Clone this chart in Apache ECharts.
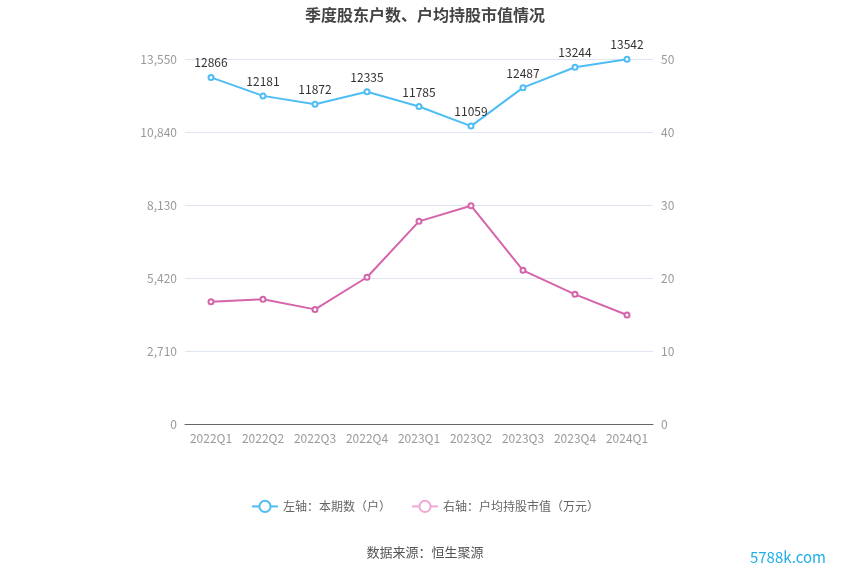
<!DOCTYPE html>
<html><head><meta charset="utf-8">
<script src="https://cdn.jsdelivr.net/npm/echarts@6/dist/echarts.min.js"></script>
<style>html,body{margin:0;padding:0;background:#fff}#c{width:850px;height:575px}</style>
</head><body><div id="c"></div>
<script>
var categories = ['2022Q1','2022Q2','2022Q3','2022Q4','2023Q1','2023Q2','2023Q3','2023Q4','2024Q1'];
var holders = [12866,12181,11872,12335,11785,11059,12487,13244,13542];
var avgValue = [16.75,17.08,15.70,20.10,27.76,29.90,21.05,17.76,14.93];
var leftTicks = [0,2710,5420,8130,10840,13550];
var rightTicks = [0,10,20,30,40,50];

var chart = echarts.init(document.getElementById('c'));
var font = 'Microsoft YaHei, "Noto Sans CJK SC", sans-serif';
chart.setOption({
  animation:false,
  textStyle:{fontFamily:font},
  title:{text:'季度股东户数、户均持股市值情况',left:'center',top:2,textStyle:{fontSize:16,fontWeight:'bold',color:'#444',fontFamily:font}},
  legend:{bottom:57,left:'center',itemWidth:26,itemHeight:14,itemGap:20,textStyle:{color:'#666',fontSize:12},
    data:[{name:'左轴：本期数（户）',itemStyle:{color:'#4fbdf5',borderWidth:2}},
          {name:'右轴：户均持股市值（万元）',itemStyle:{color:'#eeaad6',borderWidth:2},lineStyle:{color:'#eeaad6'}}]},
  grid:{left:185,right:197,top:59,bottom:151},
  xAxis:{type:'category',data:categories,boundaryGap:true,
    axisLine:{lineStyle:{color:'#666'}},axisTick:{alignWithLabel:true,lineStyle:{color:'#666'}},
    axisLabel:{color:'#999',fontSize:12,margin:8,interval:0}},
  yAxis:[
    {type:'value',min:leftTicks[0],max:leftTicks[leftTicks.length-1],interval:2710,
     axisLabel:{color:'#999',fontSize:12,formatter:function(v){return v.toLocaleString('en-US');}},
     axisLine:{show:false},axisTick:{show:false},splitLine:{lineStyle:{color:'#e0e6f1'}}},
    {type:'value',min:rightTicks[0],max:rightTicks[rightTicks.length-1],interval:10,
     axisLabel:{color:'#999',fontSize:12},axisLine:{show:false},axisTick:{show:false},splitLine:{show:false}}
  ],
  series:[
    {name:'左轴：本期数（户）',type:'line',data:holders,yAxisIndex:0,symbol:'emptyCircle',symbolSize:5,
     itemStyle:{color:'#4fbdf5'},lineStyle:{color:'#4fbdf5',width:2},
     label:{show:true,position:'top',color:'#333',fontSize:12,distance:5}},
    {name:'右轴：户均持股市值（万元）',type:'line',data:avgValue,yAxisIndex:1,symbol:'emptyCircle',symbolSize:5,
     itemStyle:{color:'#d664aa'},lineStyle:{color:'#d664aa',width:2}}
  ],
  graphic:[
    {type:'text',left:'center',top:546,style:{text:'数据来源：恒生聚源',fill:'#555',fontSize:13,fontFamily:font}},
    {type:'text',right:24,top:550,style:{text:'5788k.com',fill:'#1eaee6',fontSize:15,fontFamily:font}}
  ]
});
</script></body></html>
